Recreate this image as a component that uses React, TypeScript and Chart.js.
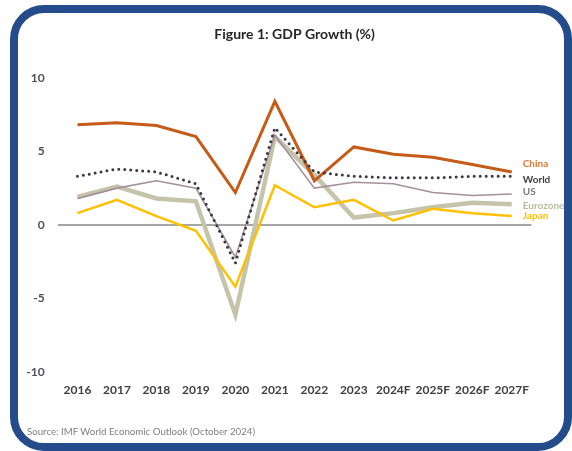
import React, { useEffect, useRef } from "react";
import { Chart, registerables } from "chart.js";

Chart.register(...registerables);

const categories = ["2016", "2017", "2018", "2019", "2020", "2021", "2022", "2023", "2024F", "2025F", "2026F", "2027F"];
const china = [6.8, 6.95, 6.75, 6.0, 2.2, 8.4, 3.0, 5.3, 4.8, 4.6, 4.1, 3.6];
const world = [3.3, 3.8, 3.6, 2.8, -2.6, 6.6, 3.6, 3.3, 3.2, 3.2, 3.3, 3.3];
const us = [1.8, 2.5, 3.0, 2.5, -2.2, 6.1, 2.5, 2.9, 2.8, 2.2, 2.0, 2.1];
const eurozone = [1.9, 2.6, 1.8, 1.6, -6.1, 6.0, 3.4, 0.5, 0.8, 1.2, 1.5, 1.4];
const japan = [0.8, 1.7, 0.6, -0.4, -4.2, 2.7, 1.2, 1.7, 0.3, 1.1, 0.8, 0.6];
const seriesNames = ["China", "World", "US", "Eurozone", "Japan"];
const yMin = -10;
const yMax = 10;
const yStep = 5;
const titleText = "Figure 1: GDP Growth (%)";
const sourceText = "Source: IMF World Economic Outlook (October 2024)";

const FONT = "Lato, 'Open Sans', sans-serif";

const endLabelColors: Record<string, string> = {
  China: "#E2793A",
  World: "#404040",
  US: "#857483",
  Eurozone: "#BDBA9F",
  Japan: "#FFC000",
};
const endLabelOffsets: Record<string, number> = {
  China: -8,
  World: 3,
  US: -2,
  Eurozone: 1,
  Japan: 0,
};

const endLabelsPlugin = {
  id: "endLabels",
  afterDatasetsDraw(chart: any) {
    const ctx = chart.ctx;
    ctx.save();
    ctx.font = `bold 10px ${FONT}`;
    ctx.textAlign = "left";
    ctx.textBaseline = "middle";
    chart.data.datasets.forEach((ds: any, i: number) => {
      const meta = chart.getDatasetMeta(i);
      const pt = meta.data[meta.data.length - 1];
      if (!pt) return;
      const name = ds.label as string;
      ctx.fillStyle = endLabelColors[name] || "#404040";
      ctx.fillText(name, pt.x + 11, pt.y + (endLabelOffsets[name] || 0));
    });
    ctx.restore();
  },
};

export default function App() {
  const canvasRef = useRef<HTMLCanvasElement | null>(null);

  useEffect(() => {
    const canvas = canvasRef.current;
    if (!canvas) return;
    const chart = new Chart(canvas, {
      type: "line",
      data: {
        labels: categories,
        datasets: [
          {
            label: seriesNames[0],
            data: china,
            borderColor: "#C65A17",
            borderWidth: 3,
            pointRadius: 0,
            tension: 0,
            order: 2,
          },
          {
            label: seriesNames[1],
            data: world,
            borderColor: "#3B383F",
            borderWidth: 3,
            borderDash: [0, 6],
            borderCapStyle: "round",
            pointRadius: 0,
            tension: 0,
            order: 1,
          },
          {
            label: seriesNames[2],
            data: us,
            borderColor: "#A4909B",
            borderWidth: 1.6,
            pointRadius: 0,
            tension: 0,
            order: 4,
          },
          {
            label: seriesNames[3],
            data: eurozone,
            borderColor: "#C6C3AB",
            borderWidth: 4.5,
            pointRadius: 0,
            tension: 0,
            order: 5,
          },
          {
            label: seriesNames[4],
            data: japan,
            borderColor: "#FFC000",
            borderWidth: 2.5,
            pointRadius: 0,
            tension: 0,
            order: 3,
          },
        ],
      },
      options: {
        animation: false,
        responsive: false,
        devicePixelRatio: 1,
        layout: { padding: { left: 0, right: 40.5, top: 0, bottom: 39 } },
        plugins: {
          legend: { display: false },
          tooltip: { enabled: false },
          title: {
            display: true,
            text: titleText,
            fullSize: false,
            color: "#262626",
            font: { family: FONT, size: 14, weight: "bold" },
            padding: { top: 26, bottom: 35 },
          },
        },
        scales: {
          x: {
            offset: true,
            grid: { display: false, drawTicks: false },
            border: { display: false },
            ticks: {
              color: "#404040",
              padding: 11,
              maxRotation: 0,
              autoSkip: false,
              font: { family: FONT, size: 12, weight: "bold" },
            },
            afterFit: (scale: any) => {
              scale.height = 40;
            },
          },
          y: {
            min: yMin,
            max: yMax,
            grid: {
              drawTicks: false,
              color: (c: any) => (c.tick && c.tick.value === 0 ? "#A6A6A6" : "rgba(0,0,0,0)"),
              lineWidth: (c: any) => (c.tick && c.tick.value === 0 ? 2 : 0),
            },
            border: { display: false },
            ticks: {
              stepSize: yStep,
              color: "#50505A",
              padding: 13,
              font: { family: FONT, size: 12, weight: "bold" },
            },
            afterFit: (scale: any) => {
              scale.width = 57.7;
            },
          },
        },
      },
      plugins: [endLabelsPlugin],
    } as any);
    return () => chart.destroy();
  }, []);

  return (
    <div
      style={{
        position: "fixed",
        left: 0,
        top: 0,
        width: 572,
        height: 451,
        overflow: "hidden",
        background: "#ffffff",
      }}
    >
      <div
        style={{
          position: "absolute",
          left: 10,
          top: 5,
          width: 562,
          height: 446,
          boxSizing: "border-box",
          border: "8px solid #244C8A",
          borderRadius: 34,
          background: "#ffffff",
        }}
      />
      <canvas
        ref={canvasRef}
        width={572}
        height={451}
        style={{ position: "absolute", left: 0, top: 0, width: 572, height: 451 }}
      />
      <div
        style={{
          position: "absolute",
          left: 27,
          top: 425,
          fontFamily: FONT,
          fontSize: 9.7,
          lineHeight: "12px",
          color: "#7F7F7F",
          whiteSpace: "nowrap",
        }}
      >
        {sourceText}
      </div>
    </div>
  );
}
